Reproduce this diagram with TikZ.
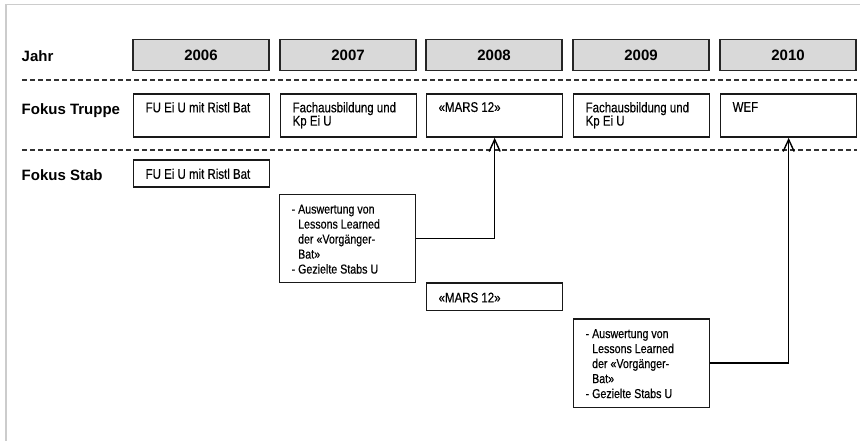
\documentclass[tikz,border=0pt]{standalone}
\usepackage{fontspec}
\setmainfont{Liberation Sans}
\newfontfamily\narrowfont{Liberation Sans}[FakeStretch=0.82,FakeBold=0.4]
\usetikzlibrary{arrows.meta}
\newcommand\bxt[4]{\begin{minipage}[c][#2][t]{#1}\vspace*{#3}\raggedright\leftskip=12bp\relax #4\end{minipage}}
\newcommand\ind{\hphantom{-\ }}
\definecolor{yearfill}{HTML}{D9D9D9}
\definecolor{framegray}{HTML}{CCCCCC}
\tikzset{
  box/.style={draw=black!90, line width=1.3bp, inner sep=0pt, anchor=north west,
    font=\narrowfont\fontsize{14bp}{13.3bp}\selectfont},
  smallbox/.style={box, font=\narrowfont\fontsize{13bp}{15bp}\selectfont},
  yearbox/.style={draw=black!85, line width=1.4bp, fill=yearfill, inner sep=0pt,
    minimum width=136bp, minimum height=31bp, font=\fontsize{15bp}{18bp}\selectfont\bfseries},
  lbl/.style={anchor=base west, inner sep=0pt, font=\fontsize{15bp}{18bp}\selectfont\bfseries},
  sep/.style={draw=black!80, line width=1.1bp, dash pattern=on 5bp off 3bp},
  conn/.style={draw=black, line width=1.4bp, -{Straight Barb[length=12bp,width=11bp,line width=1.4bp]}}
}
\begin{document}
\begin{tikzpicture}[x=1bp,y=-1bp]
\useasboundingbox (0,0) rectangle (860,441);
% frame
\draw[framegray, line width=1.6bp] (6,441) -- (6,4.5) -- (860,4.5);
% labels
\node[lbl] (ljahr) at (21.5,61.5) {Jahr};
\node[lbl] (ltruppe) at (21.5,115) {Fokus Truppe};
\node[lbl] (lstab) at (21.5,181) {Fokus Stab};
% years
\node[yearbox] (y2006) at (201,55) {2006};
\node[yearbox] (y2007) at (348,55) {2007};
\node[yearbox] (y2008) at (494,55) {2008};
\node[yearbox] (y2009) at (641,55) {2009};
\node[yearbox] (y2010) at (788,55) {2010};
% separators
\draw[sep] (22,80) -- (857,80);
\draw[sep] (22,150) -- (857,150);
% Truppe
\node[box] (t2006) at (133,93.5) {\bxt{136bp}{43bp}{8bp}{FU Ei U mit Ristl Bat}};
\node[box] (t2007) at (280,93.5) {\bxt{136bp}{43bp}{8bp}{Fachausbildung und\\Kp Ei U}};
\node[box] (t2008) at (426,93.5) {\bxt{136bp}{43bp}{8bp}{«MARS 12»}};
\node[box] (t2009) at (573,93.5) {\bxt{136bp}{43bp}{8bp}{Fachausbildung und\\Kp Ei U}};
\node[box] (t2010) at (720,93.5) {\bxt{136bp}{43bp}{8bp}{WEF}};
% Stab
\node[box] (s2006) at (133,159.5) {\bxt{136bp}{27bp}{8.5bp}{FU Ei U mit Ristl Bat}};
\node[smallbox] (s2007) at (279,194) {\bxt{136bp}{88bp}{10bp}{- Auswertung von\\\ind Lessons Learned\\\ind der «Vorgänger-\\\ind Bat»\\- Gezielte Stabs U}};
\node[box] (s2008) at (426,282.5) {\bxt{136bp}{27.5bp}{9.5bp}{«MARS 12»}};
\node[smallbox] (s2009) at (573,318.5) {\bxt{136bp}{88bp}{10bp}{- Auswertung von\\\ind Lessons Learned\\\ind der «Vorgänger-\\\ind Bat»\\- Gezielte Stabs U}};
% connectors
\draw[conn] (s2007.east) -| (t2008.south);
\draw[conn] (s2009.east) -| (t2010.south);
\end{tikzpicture}
\end{document}
